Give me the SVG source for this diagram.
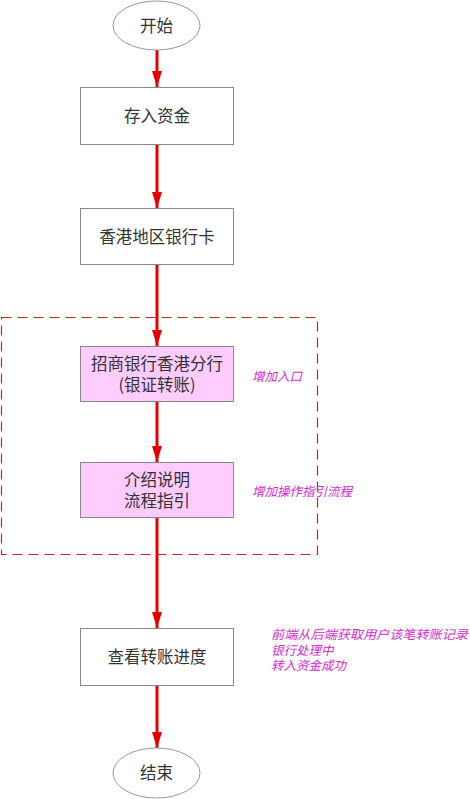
<svg xmlns="http://www.w3.org/2000/svg" width="470" height="799" viewBox="0 0 470 799">
<style>
.t{font-family:"Noto Sans CJK SC","Microsoft YaHei",sans-serif;font-size:16.5px;fill:#333;text-anchor:middle;}
.n{font-family:"Noto Sans CJK SC",sans-serif;font-size:12.5px;fill:#d22bcf;font-style:italic;}
.box{fill:#fff;stroke:#888;stroke-width:1;}
.pink{fill:#ffccff;stroke:#888;stroke-width:1;}
.oval{fill:#fff;stroke:#999;stroke-width:1;}
.c{stroke:#e60000;stroke-width:3;fill:none;marker-end:url(#ah);}
</style>
<defs>
<marker id="ah" markerWidth="16" markerHeight="10" refX="16" refY="5" orient="auto" markerUnits="userSpaceOnUse">
<path d="M0,0 L16,5 L0,10 Z" fill="#e60000"/>
</marker>
</defs>
<rect width="470" height="799" fill="#fff"/>
<g id="group">
<rect x="1.5" y="317.5" width="316" height="237" fill="none" stroke="#c8202a" stroke-width="1.2" stroke-dasharray="10,6"/>
</g>
<g id="connectors">
<line class="c" x1="157" y1="50" x2="157" y2="87"/>
<line class="c" x1="157" y1="145" x2="157" y2="208"/>
<line class="c" x1="157" y1="265" x2="157" y2="346"/>
<line class="c" x1="157" y1="402" x2="157" y2="462"/>
<line class="c" x1="157" y1="518" x2="157" y2="628"/>
<line class="c" x1="157" y1="686" x2="157" y2="748"/>
</g>
<g id="start">
<ellipse class="oval" cx="156.5" cy="25.5" rx="43.5" ry="24.5"/>
<text class="t" x="156.5" y="31.5">开始</text>
</g>
<g id="deposit">
<rect class="box" x="80.5" y="87.5" width="153" height="57"/>
<text class="t" x="157" y="122">存入资金</text>
</g>
<g id="hkcard">
<rect class="box" x="80.5" y="208.5" width="153" height="56"/>
<text class="t" x="157" y="243">香港地区银行卡</text>
</g>
<g id="cmb">
<rect class="pink" x="80.5" y="346.5" width="153" height="55"/>
<text class="t" x="157" y="370">招商银行香港分行</text>
<text class="t" x="157" y="391">(银证转账)</text>
</g>
<g id="guide">
<rect class="pink" x="80.5" y="462.5" width="153" height="55"/>
<text class="t" x="157" y="485.5">介绍说明</text>
<text class="t" x="157" y="506.5">流程指引</text>
</g>
<g id="progress">
<rect class="box" x="80.5" y="628.5" width="153" height="57"/>
<text class="t" x="157" y="663">查看转账进度</text>
</g>
<g id="end">
<ellipse class="oval" cx="156.5" cy="773" rx="43.5" ry="25"/>
<text class="t" x="156.5" y="779">结束</text>
</g>
<g id="notes">
<text class="n" x="252" y="381" font-size="13">增加入口</text>
<text class="n" x="252" y="496" font-size="13">增加操作指引流程</text>
<text class="n" x="271" y="639" textLength="197" lengthAdjust="spacingAndGlyphs">前端从后端获取用户该笔转账记录</text>
<text class="n" x="271" y="654.5">银行处理中</text>
<text class="n" x="271" y="670">转入资金成功</text>
</g>
</svg>
